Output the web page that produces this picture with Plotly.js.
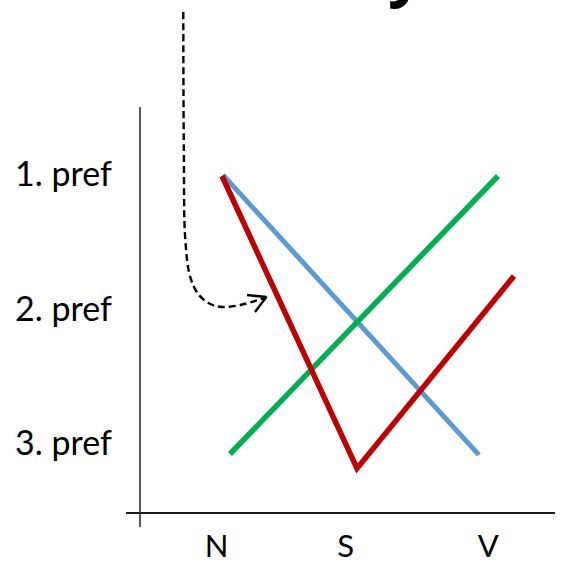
<!DOCTYPE html>
<html>
<head>
<meta charset="utf-8">
<script src="https://cdn.plot.ly/plotly-3.0.1.min.js"></script>
<style>html,body{margin:0;padding:0;background:#fff;}</style>
</head>
<body>
<div id="chart" style="width:564px;height:561px;"></div>
<script>
// Category ticks (x) and preference ticks (y)
var categories = ['N', 'S', 'V'];
var categoryPos = [1, 1.95, 3];
var prefLabels = ['1. pref', '2. pref', '3. pref'];
var prefVals = [1, 2, 3];

// Series (x position, preference rank)
var blueX = [1.046, 2.931];
var blueY = [1.007, 3.085];
var redX = [1.039, 2.033, 3.189];
var redY = [1.015, 3.185, 1.757];
var greenX = [1.098, 3.071];
var greenY = [3.078, 1.015];

// Dashed arrow annotation path
var arrowX = [0.754, 0.758, 0.769, 0.805, 0.864, 0.953, 1.041, 1.174, 1.350];
var arrowY = [-0.202, 0.822, 1.490, 1.764, 1.891, 1.965, 1.987, 1.972, 1.920];
var headX = [1.223, 1.366, 1.282];
var headY = [1.898, 1.913, 2.024];

var traces = [
  {x: blueX, y: blueY, mode: 'lines', line: {color: '#5B9BD5', width: 5}, hoverinfo: 'skip'},
  {x: greenX, y: greenY, mode: 'lines', line: {color: '#00B050', width: 5.5}, hoverinfo: 'skip'},
  {x: redX, y: redY, mode: 'lines', line: {color: '#C00000', width: 5.5}, hoverinfo: 'skip'},
  {x: arrowX, y: arrowY, mode: 'lines', line: {color: '#000', width: 2.4, dash: '7px,4px', shape: 'spline', smoothing: 1}, hoverinfo: 'skip'},
  {x: headX, y: headY, mode: 'lines', line: {color: '#000', width: 2.4}, hoverinfo: 'skip'}
];

var layout = {
  width: 564, height: 561,
  margin: {l: 140, r: 9, t: 0, b: 48},
  paper_bgcolor: '#fff', plot_bgcolor: '#fff',
  showlegend: false,
  xaxis: {
    range: [0.4352, 3.4912],
    tickmode: 'array', tickvals: categoryPos, ticktext: categories,
    showgrid: false, zeroline: false, showline: false, ticks: '',
    ticklabelstandoff: 12,
    tickfont: {family: 'Lato, "Open Sans", sans-serif', size: 31, color: '#000'},
    fixedrange: true
  },
  yaxis: {
    range: [3.516, -0.2913],
    tickmode: 'array', tickvals: prefVals, ticktext: prefLabels,
    showgrid: false, zeroline: false, showline: false, ticks: '',
    ticklabelstandoff: 27,
    tickfont: {family: 'Lato, "Open Sans", sans-serif', size: 34, color: '#000'},
    fixedrange: true
  },
  shapes: [
    {type: 'line', xref: 'paper', yref: 'paper', x0: 0, x1: 0, y0: 0.7914, y1: -0.0273,
     line: {color: '#595959', width: 2}, layer: 'below'},
    {type: 'line', xref: 'paper', yref: 'paper', x0: -0.0337, x1: 1, y0: 0, y1: 0,
     line: {color: '#1a1a1a', width: 2}, layer: 'below'}
  ],
  annotations: [
    {text: '<b>y</b>', xref: 'paper', yref: 'paper', x: 0.641, y: 0.9727,
     xanchor: 'center', yanchor: 'bottom', showarrow: false,
     font: {family: '"Open Sans", sans-serif', size: 62, color: '#000'}}
  ]
};

Plotly.newPlot('chart', traces, layout, {displayModeBar: false, staticPlot: true});
</script>
</body>
</html>
